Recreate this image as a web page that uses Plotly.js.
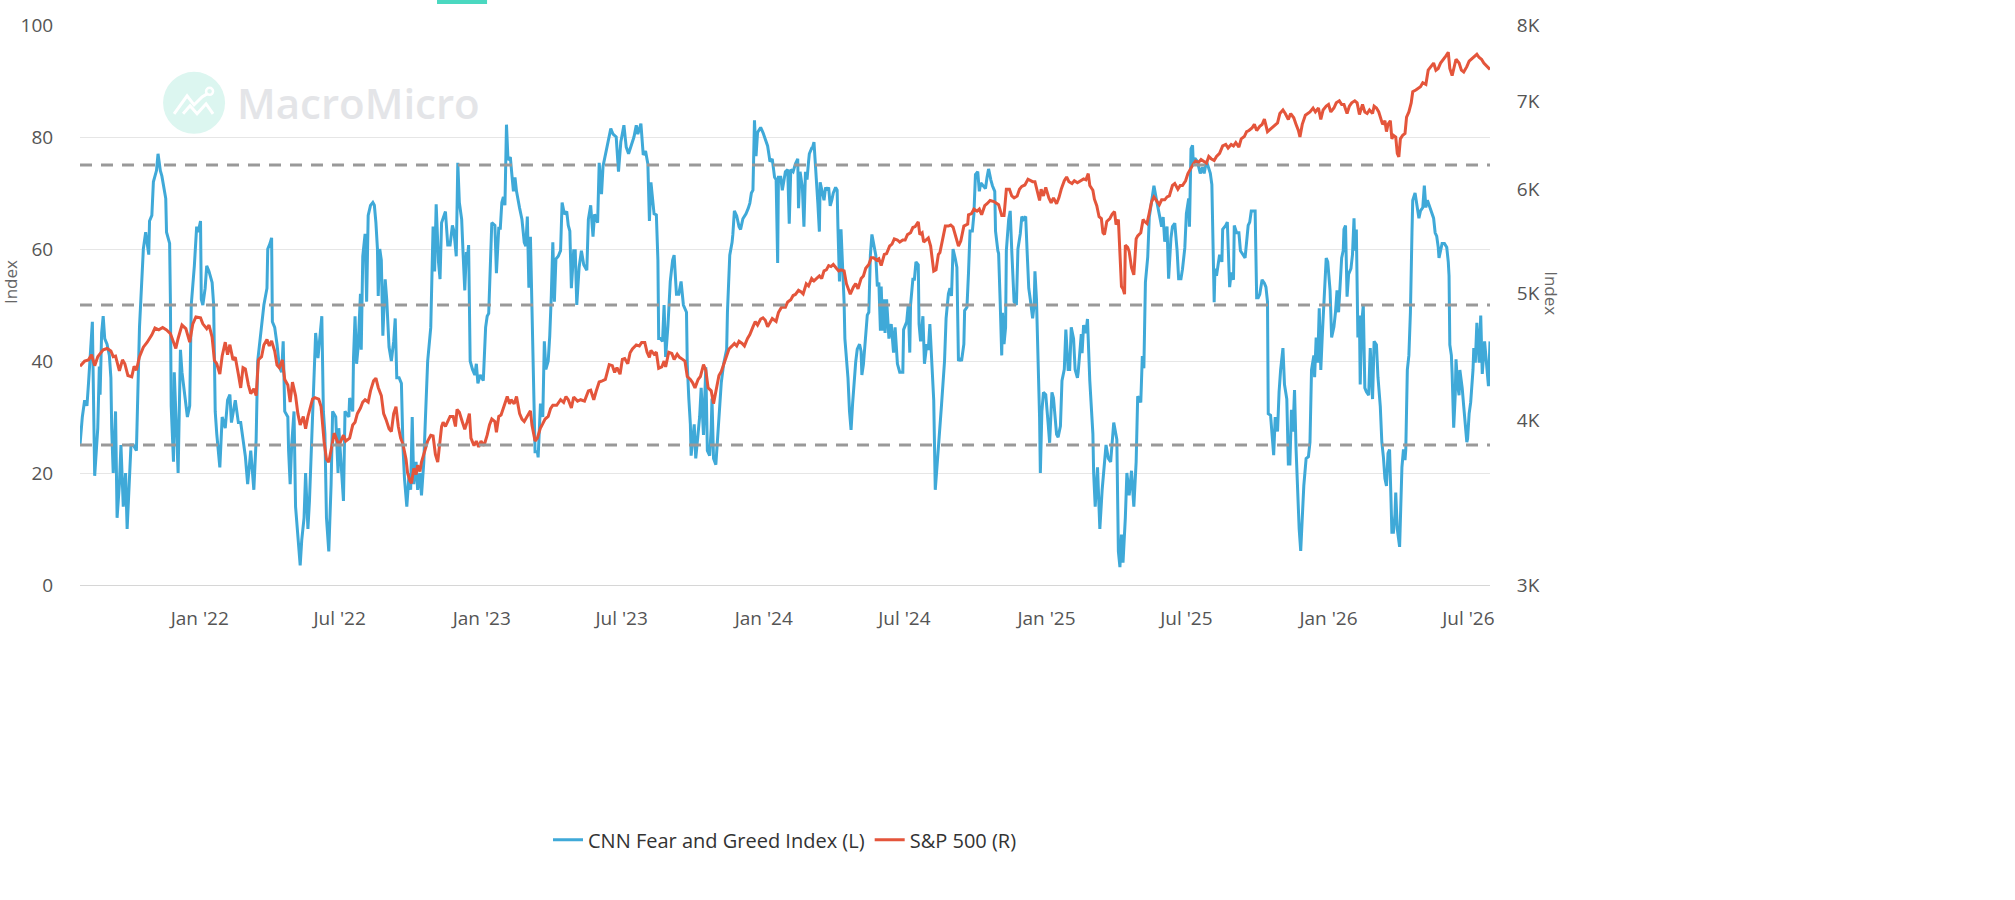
<!DOCTYPE html>
<html>
<head>
<meta charset="utf-8">
<script src="https://cdn.plot.ly/plotly-3.0.1.min.js"></script>
<style>
  html, body { margin: 0; padding: 0; background: #fff; }
  #chart { width: 2015px; height: 900px; }
</style>
</head>
<body>
<div id="chart"></div>
<script>
// CNN Fear and Greed Index, left axis (date, value)
var fearGreed = [
  ['2021-07-30',25],['2021-08-02',30],['2021-08-05',33],['2021-08-08',32],['2021-08-10',36],['2021-08-12',41],
  ['2021-08-15',47],['2021-08-18',19.5],['2021-08-22',28],['2021-08-24',39],['2021-08-25',34],['2021-08-27',45],
  ['2021-08-29',48],['2021-08-31',44],['2021-09-03',43],['2021-09-06',41],['2021-09-08',37],['2021-09-09',28],
  ['2021-09-11',20],['2021-09-14',31],['2021-09-16',12],['2021-09-19',18],['2021-09-21',25],['2021-09-24',14],
  ['2021-09-27',20],['2021-09-29',10],['2021-10-02',18],['2021-10-04',25],['2021-10-07',25],['2021-10-11',24],
  ['2021-10-15',46],['2021-10-17',52],['2021-10-20',60],['2021-10-23',63],['2021-10-27',59],['2021-10-28',65],
  ['2021-10-31',66],['2021-11-02',72],['2021-11-06',74],['2021-11-08',77],['2021-11-11',74],['2021-11-13',73],
  ['2021-11-16',71],['2021-11-18',69],['2021-11-19',63],['2021-11-23',61],['2021-11-24',51],['2021-11-25',32],
  ['2021-11-28',22],['2021-11-29',38],['2021-12-04',20],['2021-12-07',42],['2021-12-09',38],['2021-12-13',33],
  ['2021-12-16',30],['2021-12-19',32],['2021-12-21',50],['2021-12-25',57],['2021-12-28',64],['2021-12-30',63],
  ['2022-01-02',65],['2022-01-03',51],['2022-01-05',50],['2022-01-08',53],['2022-01-10',57],['2022-01-13',56],
  ['2022-01-17',54],['2022-01-19',50],['2022-01-21',31],['2022-01-23',27],['2022-01-27',21],['2022-01-30',30],
  ['2022-02-03',28],['2022-02-06',33],['2022-02-09',34],['2022-02-11',29],['2022-02-16',33],['2022-02-20',29],
  ['2022-02-23',29],['2022-02-26',26],['2022-03-01',23],['2022-03-04',18],['2022-03-08',24],['2022-03-12',17],
  ['2022-03-15',26],['2022-03-17',40],['2022-03-22',46],['2022-03-25',50],['2022-03-29',53],['2022-03-30',60],
  ['2022-04-02',61],['2022-04-04',62],['2022-04-05',47],['2022-04-08',46],['2022-04-11',43],['2022-04-14',39],
  ['2022-04-17',38],['2022-04-19',43.5],['2022-04-21',31],['2022-04-25',30],['2022-04-26',24],['2022-04-28',18],
  ['2022-04-30',25],['2022-05-03',31],['2022-05-05',14],['2022-05-08',8],['2022-05-11',3.5],['2022-05-13',8],
  ['2022-05-16',12],['2022-05-18',20],['2022-05-21',10],['2022-05-23',15],['2022-05-27',32],['2022-05-31',45],
  ['2022-06-03',40.5],['2022-06-06',44.5],['2022-06-08',48],['2022-06-10',31],['2022-06-12',27],['2022-06-14',12],
  ['2022-06-17',6],['2022-06-20',18],['2022-06-22',31],['2022-06-26',30],['2022-06-29',20],['2022-06-30',28],
  ['2022-07-03',22],['2022-07-06',15],['2022-07-08',31],['2022-07-13',30],['2022-07-14',33.4],['2022-07-18',31],
  ['2022-07-19',40.5],['2022-07-21',48],['2022-07-23',39.5],['2022-07-25',42.5],['2022-07-28',52],['2022-07-29',42],
  ['2022-07-31',58.7],['2022-08-03',62.7],['2022-08-05',50.6],['2022-08-07',66],['2022-08-10',67.8],['2022-08-13',68.3],
  ['2022-08-15',67.8],['2022-08-17',64.7],['2022-08-19',60],['2022-08-20',51.6],['2022-08-22',60],['2022-08-24',58],
  ['2022-08-26',44.5],['2022-08-29',54.6],['2022-08-31',51],['2022-09-03',42.5],['2022-09-06',40],['2022-09-09',43.5],
  ['2022-09-11',47.6],['2022-09-13',37],['2022-09-16',37],['2022-09-19',36],['2022-09-21',24.8],['2022-09-23',19],
  ['2022-09-26',14],['2022-09-29',20],['2022-10-01',17],['2022-10-03',30],['2022-10-05',18],['2022-10-08',22],
  ['2022-10-10',17],['2022-10-13',20],['2022-10-15',16],['2022-10-18',22],['2022-10-20',29.4],['2022-10-23',40],
  ['2022-10-27',46],['2022-10-30',64],['2022-11-01',56],['2022-11-03',68],['2022-11-06',57.7],['2022-11-08',54.6],
  ['2022-11-10',64.7],['2022-11-13',65.7],['2022-11-15',66.7],['2022-11-18',60.7],['2022-11-21',60.7],['2022-11-24',64.2],
  ['2022-11-26',63.2],['2022-11-29',58.7],['2022-12-01',75.4],['2022-12-03',68.3],['2022-12-06',65.3],['2022-12-08',58.7],
  ['2022-12-10',52.6],['2022-12-12',59.2],['2022-12-14',59.2],['2022-12-15',60.7],['2022-12-17',40],['2022-12-20',38.5],
  ['2022-12-23',37.5],['2022-12-25',39.5],['2022-12-27',36],['2022-12-30',37.5],['2023-01-03',36.5],['2023-01-06',46],
  ['2023-01-08',48],['2023-01-10',48.5],['2023-01-12',56],['2023-01-14',64.7],['2023-01-18',64.2],['2023-01-20',55.7],
  ['2023-01-23',63.7],['2023-01-25',63.7],['2023-01-27',68.3],['2023-01-29',69.3],['2023-01-31',67.8],['2023-02-02',82.2],
  ['2023-02-04',75.9],['2023-02-07',76.4],['2023-02-09',73.3],['2023-02-11',70.3],['2023-02-13',72.8],['2023-02-15',70.3],
  ['2023-02-19',67.3],['2023-02-22',65.3],['2023-02-25',61.2],['2023-02-27',60.5],['2023-03-01',65.8],['2023-03-03',53.1],
  ['2023-03-05',62.2],['2023-03-07',49],['2023-03-09',31],['2023-03-11',23.8],['2023-03-14',23.8],['2023-03-15',22.8],
  ['2023-03-18',32.4],['2023-03-21',30],['2023-03-23',43.5],['2023-03-25',38.5],['2023-03-28',40],['2023-03-30',44.5],
  ['2023-04-01',51.6],['2023-04-03',61.2],['2023-04-05',50.6],['2023-04-07',58.2],['2023-04-10',58.7],['2023-04-13',59.7],
  ['2023-04-15',68.3],['2023-04-18',66.2],['2023-04-21',66.7],['2023-04-23',64.2],['2023-04-25',63.2],['2023-04-27',53],
  ['2023-04-30',59.7],['2023-05-02',59.7],['2023-05-04',50],['2023-05-07',56.7],['2023-05-10',59.7],['2023-05-13',57.2],
  ['2023-05-17',56.2],['2023-05-19',65.3],['2023-05-22',67.8],['2023-05-25',62.2],['2023-05-27',66.2],['2023-05-31',64.7],
  ['2023-06-02',75.4],['2023-06-05',69.8],['2023-06-07',74.8],['2023-06-10',76.9],['2023-06-12',77.9],['2023-06-14',79.8],
  ['2023-06-17',81.5],['2023-06-20',80.5],['2023-06-24',80],['2023-06-27',73.8],['2023-06-30',79.1],['2023-07-04',82.1],
  ['2023-07-07',78.2],['2023-07-10',77],['2023-07-14',78.9],['2023-07-17',80],['2023-07-20',82.1],['2023-07-22',80.5],
  ['2023-07-26',82.4],['2023-07-29',76.8],['2023-08-01',77.5],['2023-08-04',75.2],['2023-08-06',65],['2023-08-08',71.9],
  ['2023-08-12',66.3],['2023-08-15',66.1],['2023-08-17',58],['2023-08-18',44],['2023-08-20',44],['2023-08-23',43.5],
  ['2023-08-25',50],['2023-08-27',40.7],['2023-08-30',46.3],['2023-09-02',54.2],['2023-09-05',58],['2023-09-07',58.9],
  ['2023-09-10',51.9],['2023-09-13',51.9],['2023-09-16',54.2],['2023-09-19',50],['2023-09-23',48.7],['2023-09-24',39.4],
  ['2023-09-26',33.3],['2023-09-28',28.7],['2023-09-29',23.1],['2023-10-03',28.7],['2023-10-05',22.6],['2023-10-08',27.7],
  ['2023-10-10',30],['2023-10-12',35.2],['2023-10-15',26.8],['2023-10-18',38.9],['2023-10-20',24],['2023-10-23',23.1],
  ['2023-10-25',28],['2023-10-26',33.3],['2023-10-28',22.6],['2023-10-31',21.5],['2023-11-04',31],['2023-11-07',36.1],
  ['2023-11-10',39.4],['2023-11-14',42.1],['2023-11-15',48.7],['2023-11-18',58.9],['2023-11-21',61.2],['2023-11-22',62.6],
  ['2023-11-24',66.8],['2023-11-27',65.9],['2023-11-30',64],['2023-12-02',63.5],['2023-12-05',65.4],['2023-12-09',66.3],
  ['2023-12-12',67.3],['2023-12-14',68.2],['2023-12-16',70],['2023-12-18',70.5],['2023-12-20',83],['2023-12-22',76.6],
  ['2023-12-24',80.8],['2023-12-28',81.7],['2023-12-31',80.8],['2024-01-04',79.4],['2024-01-06',78.4],['2024-01-08',76.6],
  ['2024-01-09',75.6],['2024-01-12',76.1],['2024-01-15',72.8],['2024-01-17',72.4],['2024-01-19',57.5],['2024-01-20',72.8],
  ['2024-01-23',72.8],['2024-01-25',70.5],['2024-01-29',73.8],['2024-02-01',74.2],['2024-02-03',64.5],['2024-02-05',74.2],
  ['2024-02-08',73.8],['2024-02-11',75.2],['2024-02-14',76.1],['2024-02-15',67.3],['2024-02-17',73.8],['2024-02-20',71],
  ['2024-02-22',64],['2024-02-24',73.8],['2024-02-26',72.4],['2024-02-28',75.6],['2024-02-29',77],['2024-03-03',78],
  ['2024-03-04',78],['2024-03-06',79.1],['2024-03-08',75.2],['2024-03-09',72.8],['2024-03-11',68.2],['2024-03-13',63.1],
  ['2024-03-14',71.9],['2024-03-17',70],['2024-03-19',68.7],['2024-03-21',71],['2024-03-23',70.5],['2024-03-25',71],
  ['2024-03-27',67.7],['2024-03-29',68.7],['2024-03-31',70],['2024-04-03',71],['2024-04-05',70.5],['2024-04-06',64],
  ['2024-04-08',54.2],['2024-04-10',63.5],['2024-04-12',58],['2024-04-14',50.5],['2024-04-15',44],['2024-04-19',37],
  ['2024-04-21',31],['2024-04-23',27.7],['2024-04-25',32.4],['2024-04-27',37],['2024-04-29',39.8],['2024-05-01',42.1],
  ['2024-05-04',43],['2024-05-06',41.7],['2024-05-07',37.5],['2024-05-09',39.4],['2024-05-12',45.9],['2024-05-14',48.2],
  ['2024-05-16',48.7],['2024-05-18',58.9],['2024-05-20',62.6],['2024-05-22',61.2],['2024-05-25',58.9],['2024-05-27',53.3],
  ['2024-05-29',54],['2024-05-31',45.4],['2024-06-01',53.3],['2024-06-03',45.4],['2024-06-05',51],['2024-06-06',45],
  ['2024-06-08',51],['2024-06-11',44],['2024-06-14',46.6],['2024-06-17',41.5],['2024-06-19',46],['2024-06-22',39.5],
  ['2024-06-25',38],['2024-06-29',38],['2024-06-30',45.6],['2024-07-04',47],['2024-07-06',50],['2024-07-08',41.5],
  ['2024-07-09',50],['2024-07-12',54.6],['2024-07-14',54.6],['2024-07-16',57.7],['2024-07-19',57.2],['2024-07-20',46.6],
  ['2024-07-22',43.5],['2024-07-25',48],['2024-07-27',39.5],['2024-07-30',43],['2024-08-01',42],['2024-08-03',46.6],
  ['2024-08-06',37.5],['2024-08-08',33],['2024-08-10',17],['2024-08-15',25.4],['2024-08-18',32],['2024-08-22',40],
  ['2024-08-24',47.6],['2024-08-27',52],['2024-08-29',53],['2024-08-31',51.6],['2024-09-02',60],['2024-09-05',58.2],
  ['2024-09-07',56.7],['2024-09-09',40],['2024-09-11',40.5],['2024-09-13',40],['2024-09-16',43],['2024-09-17',49],
  ['2024-09-20',49.6],['2024-09-22',55.7],['2024-09-24',63.2],['2024-09-27',63.2],['2024-09-29',66.2],['2024-10-01',73.3],
  ['2024-10-04',73.8],['2024-10-06',70.3],['2024-10-08',71.8],['2024-10-11',71.3],['2024-10-14',70.8],['2024-10-16',72.8],
  ['2024-10-18',74.3],['2024-10-21',72.3],['2024-10-23',71.3],['2024-10-26',70.3],['2024-10-27',63.2],['2024-10-30',59.7],
  ['2024-10-31',59.2],['2024-11-02',50.6],['2024-11-04',41],['2024-11-05',48.6],['2024-11-07',43],['2024-11-09',46],
  ['2024-11-10',59.7],['2024-11-13',65.3],['2024-11-15',66.8],['2024-11-17',59.7],['2024-11-19',52],['2024-11-20',50.6],
  ['2024-11-23',50],['2024-11-25',60],['2024-11-28',62.7],['2024-11-30',65.8],['2024-12-02',65.3],['2024-12-05',65.8],
  ['2024-12-07',59.2],['2024-12-09',53],['2024-12-11',51],['2024-12-14',47.6],['2024-12-16',50],['2024-12-17',56],
  ['2024-12-19',51],['2024-12-21',42],['2024-12-23',30],['2024-12-24',20],['2024-12-26',31],['2024-12-28',34.4],
  ['2024-12-31',34],['2025-01-03',29],['2025-01-05',25.4],['2025-01-08',34.4],['2025-01-10',33.4],['2025-01-14',26.9],
  ['2025-01-16',26.4],['2025-01-19',28.4],['2025-01-21',36.5],['2025-01-24',38.5],['2025-01-26',45.6],['2025-01-29',38.5],
  ['2025-01-31',38.5],['2025-02-02',46],['2025-02-05',44],['2025-02-07',38.5],['2025-02-10',37],['2025-02-11',38],
  ['2025-02-15',44.8],['2025-02-16',41.4],['2025-02-18',46.4],['2025-02-21',45],['2025-02-23',47.5],['2025-02-26',36.5],
  ['2025-02-28',32],['2025-03-02',27],['2025-03-03',20],['2025-03-05',14],['2025-03-08',21],['2025-03-11',10],
  ['2025-03-14',17],['2025-03-17',21.5],['2025-03-19',25],['2025-03-22',22.6],['2025-03-25',22],['2025-03-29',29],
  ['2025-04-02',26],['2025-04-04',6],['2025-04-06',3.2],['2025-04-08',9],['2025-04-10',4],['2025-04-13',12],
  ['2025-04-15',20],['2025-04-18',16],['2025-04-21',20.4],['2025-04-24',14],['2025-04-27',22],['2025-04-29',33.7],
  ['2025-05-03',32.6],['2025-05-05',40.9],['2025-05-07',38.7],['2025-05-09',54.1],['2025-05-12',58.6],['2025-05-14',65.7],
  ['2025-05-17',69],['2025-05-20',71.3],['2025-05-23',69],['2025-05-27',65.7],['2025-05-30',64],['2025-06-01',65.7],
  ['2025-06-03',61.3],['2025-06-06',64],['2025-06-08',54.7],['2025-06-11',61.9],['2025-06-13',64],['2025-06-16',64.6],
  ['2025-06-19',59.7],['2025-06-21',54.7],['2025-06-24',54.7],['2025-06-26',56.4],['2025-06-29',60.2],['2025-07-01',66.3],
  ['2025-07-04',69],['2025-07-05',64],['2025-07-07',77.9],['2025-07-09',78.5],['2025-07-10',75.1],['2025-07-12',76.2],
  ['2025-07-15',75.7],['2025-07-17',74.6],['2025-07-19',73.5],['2025-07-22',74.6],['2025-07-24',73.5],['2025-07-27',75.7],
  ['2025-07-29',74.6],['2025-08-01',73.5],['2025-08-03',71.5],['2025-08-04',65.7],['2025-08-06',50.5],['2025-08-07',56.5],
  ['2025-08-09',55.2],['2025-08-11',57.1],['2025-08-13',59],['2025-08-16',57.7],['2025-08-17',63.5],['2025-08-21',64.2],
  ['2025-08-23',64.8],['2025-08-26',53.2],['2025-08-28',55.8],['2025-08-31',54.5],['2025-09-01',64.2],['2025-09-04',62.9],
  ['2025-09-07',62.9],['2025-09-09',59.7],['2025-09-12',59],['2025-09-15',58.4],['2025-09-19',64.2],['2025-09-21',64.8],
  ['2025-09-23',66.8],['2025-09-25',66.8],['2025-09-28',66.8],['2025-09-30',51.3],['2025-10-02',51.3],['2025-10-04',51.9],
  ['2025-10-07',54.5],['2025-10-10',53.9],['2025-10-12',53.2],['2025-10-14',50.6],['2025-10-15',30.6],['2025-10-18',30.3],
  ['2025-10-20',26.1],['2025-10-22',23.2],['2025-10-24',30],['2025-10-27',27.4],['2025-10-29',34.5],['2025-10-31',38.4],
  ['2025-11-03',42.3],['2025-11-05',35.8],['2025-11-08',33.2],['2025-11-10',21.6],['2025-11-12',21.6],['2025-11-14',31.3],
  ['2025-11-16',27.4],['2025-11-18',34.8],['2025-11-20',24.2],['2025-11-22',15.8],['2025-11-24',10],['2025-11-26',6.1],
  ['2025-11-28',13.2],['2025-11-30',17.7],['2025-12-03',22.6],['2025-12-06',22.9],['2025-12-08',25.5],['2025-12-10',38.4],
  ['2025-12-13',41],['2025-12-14',37.1],['2025-12-16',44.2],['2025-12-18',39.7],['2025-12-20',49.4],['2025-12-22',38.4],
  ['2025-12-24',44.8],['2025-12-27',53.9],['2025-12-29',58.4],['2025-12-31',57.7],['2026-01-03',52.6],['2026-01-05',44.2],
  ['2026-01-08',46.1],['2026-01-10',48.7],['2026-01-12',52.6],['2026-01-14',48.7],['2026-01-16',54.5],['2026-01-18',58.4],
  ['2026-01-20',59.7],['2026-01-21',63.5],['2026-01-23',64.2],['2026-01-25',51.5],['2026-01-27',55.5],['2026-01-30',56.5],
  ['2026-02-01',59],['2026-02-03',65.5],['2026-02-04',59.7],['2026-02-06',63.5],['2026-02-08',44.2],['2026-02-10',48.1],
  ['2026-02-11',35.8],['2026-02-13',46.8],['2026-02-15',50],['2026-02-17',35.2],['2026-02-19',34.5],['2026-02-22',33.9],
  ['2026-02-24',42.3],['2026-02-26',33.9],['2026-02-27',33.2],['2026-03-01',43.5],['2026-03-04',42.9],['2026-03-06',37.1],
  ['2026-03-08',33.2],['2026-03-09',31.9],['2026-03-11',25.5],['2026-03-13',22.9],['2026-03-15',19],['2026-03-17',17.7],
  ['2026-03-19',23.5],['2026-03-21',24.2],['2026-03-23',14.5],['2026-03-24',9.4],['2026-03-26',9.4],['2026-03-28',12.6],
  ['2026-03-29',16.5],['2026-03-31',10],['2026-04-03',6.8],['2026-04-05',16.5],['2026-04-06',21],['2026-04-08',24.2],
  ['2026-04-10',22.3],['2026-04-11',24.2],['2026-04-13',38.4],['2026-04-15',41],['2026-04-17',48.7],['2026-04-19',62.9],
  ['2026-04-20',68.7],['2026-04-23',70],['2026-04-25',68.1],['2026-04-28',65.5],['2026-04-30',66.8],['2026-05-03',67.4],
  ['2026-05-05',71.3],['2026-05-07',67.4],['2026-05-09',68.7],['2026-05-12',67.4],['2026-05-14',66.8],['2026-05-17',65.5],
  ['2026-05-19',62.9],['2026-05-21',62.3],['2026-05-23',60.3],['2026-05-24',58.4],['2026-05-26',59.7],['2026-05-28',61],
  ['2026-05-31',61],['2026-06-03',60.3],['2026-06-05',57.7],['2026-06-06',55.2],['2026-06-07',42.9],['2026-06-09',41],
  ['2026-06-10',37.7],['2026-06-12',28.1],['2026-06-14',33.9],['2026-06-15',40.3],['2026-06-17',35.8],['2026-06-19',33.9],
  ['2026-06-20',38.4],['2026-06-23',35.2],['2026-06-25',31.9],['2026-06-27',28.1],['2026-06-29',25.5],['2026-06-30',26.1],
  ['2026-07-02',30.6],['2026-07-04',32.6],['2026-07-07',38.4],['2026-07-08',42.3],['2026-07-10',39.7],['2026-07-12',46.8],
  ['2026-07-13',43.5],['2026-07-15',39.7],['2026-07-17',48.1],['2026-07-19',37.7],['2026-07-22',43.5],['2026-07-23',41.6],
  ['2026-07-25',39],['2026-07-27',35.5],['2026-07-29',43.5]
];

// S&P 500, right axis (date, close)
var sp500 = [
  ['2021-07-30',4400],['2021-08-05',4440],['2021-08-10',4450],['2021-08-14',4490],['2021-08-18',4405],['2021-08-22',4475],
  ['2021-08-29',4530],['2021-09-03',4540],['2021-09-08',4520],['2021-09-11',4475],['2021-09-14',4480],['2021-09-19',4365],
  ['2021-09-23',4450],['2021-09-26',4420],['2021-09-30',4330],['2021-10-05',4320],['2021-10-08',4400],['2021-10-11',4370],
  ['2021-10-15',4475],['2021-10-20',4550],['2021-10-25',4590],['2021-10-31',4650],['2021-11-04',4705],['2021-11-09',4690],
  ['2021-11-14',4710],['2021-11-19',4690],['2021-11-24',4660],['2021-11-28',4590],['2021-12-01',4540],['2021-12-04',4620],
  ['2021-12-09',4730],['2021-12-14',4700],['2021-12-19',4590],['2021-12-23',4740],['2021-12-27',4798],['2022-01-02',4790],
  ['2022-01-05',4740],['2022-01-10',4700],['2022-01-13',4730],['2022-01-17',4630],['2022-01-20',4445],['2022-01-23',4420],
  ['2022-01-27',4340],['2022-01-30',4480],['2022-02-03',4590],['2022-02-06',4490],['2022-02-09',4570],['2022-02-13',4450],
  ['2022-02-16',4470],['2022-02-20',4340],['2022-02-23',4237],['2022-02-26',4390],['2022-03-01',4380],['2022-03-05',4258],
  ['2022-03-08',4195],['2022-03-12',4230],['2022-03-15',4180],['2022-03-18',4452],['2022-03-22',4475],['2022-03-25',4568],
  ['2022-03-29',4612],['2022-04-01',4560],['2022-04-04',4600],['2022-04-08',4520],['2022-04-11',4410],['2022-04-14',4390],
  ['2022-04-18',4450],['2022-04-21',4300],['2022-04-25',4258],['2022-04-28',4133],['2022-05-01',4280],['2022-05-05',4180],
  ['2022-05-08',4050],['2022-05-11',3970],['2022-05-15',4030],['2022-05-18',3945],['2022-05-21',4030],['2022-05-27',4155],
  ['2022-05-30',4165],['2022-06-04',4155],['2022-06-07',4100],['2022-06-11',3854],['2022-06-14',3740],['2022-06-17',3720],
  ['2022-06-21',3830],['2022-06-24',3914],['2022-06-28',3860],['2022-06-30',3830],['2022-07-06',3900],['2022-07-09',3860],
  ['2022-07-14',3880],['2022-07-18',3970],['2022-07-21',3990],['2022-07-24',4050],['2022-07-28',4090],['2022-07-31',4133],
  ['2022-08-03',4150],['2022-08-07',4133],['2022-08-10',4215],['2022-08-14',4290],['2022-08-17',4310],['2022-08-20',4240],
  ['2022-08-24',4180],['2022-08-27',4050],['2022-08-30',4010],['2022-09-03',3945],['2022-09-06',3925],['2022-09-09',4050],
  ['2022-09-12',4100],['2022-09-15',3960],['2022-09-18',3880],['2022-09-21',3840],['2022-09-25',3740],['2022-09-27',3650],
  ['2022-09-30',3600],['2022-10-02',3585],['2022-10-05',3680],['2022-10-08',3640],['2022-10-10',3700],['2022-10-13',3660],
  ['2022-10-15',3720],['2022-10-19',3790],['2022-10-23',3860],['2022-10-27',3900],['2022-10-30',3895],['2022-11-02',3770],
  ['2022-11-05',3720],['2022-11-10',3960],['2022-11-12',3990],['2022-11-15',3960],['2022-11-18',4000],['2022-11-21',4030],
  ['2022-11-25',4030],['2022-11-28',3960],['2022-11-30',4080],['2022-12-03',4060],['2022-12-07',3990],['2022-12-10',3940],
  ['2022-12-13',3990],['2022-12-16',4050],['2022-12-18',3880],['2022-12-22',3830],['2022-12-25',3860],['2022-12-28',3820],
  ['2022-12-31',3860],['2023-01-04',3830],['2023-01-08',3900],['2023-01-11',3970],['2023-01-14',4012],['2023-01-18',3995],
  ['2023-01-20',3920],['2023-01-23',4030],['2023-01-26',4040],['2023-01-29',4085],['2023-02-03',4173],['2023-02-06',4120],
  ['2023-02-08',4150],['2023-02-12',4120],['2023-02-15',4173],['2023-02-19',4050],['2023-02-22',4012],['2023-02-25',3995],
  ['2023-02-28',4020],['2023-03-05',4070],['2023-03-07',3970],['2023-03-11',3860],['2023-03-14',3880],['2023-03-18',3950],
  ['2023-03-21',3980],['2023-03-24',4012],['2023-03-28',4030],['2023-03-31',4085],['2023-04-03',4110],['2023-04-08',4110],
  ['2023-04-13',4150],['2023-04-17',4130],['2023-04-20',4173],['2023-04-23',4150],['2023-04-27',4090],['2023-04-30',4170],
  ['2023-05-05',4140],['2023-05-09',4150],['2023-05-14',4140],['2023-05-19',4215],['2023-05-22',4220],['2023-05-26',4150],
  ['2023-05-29',4210],['2023-06-02',4281],['2023-06-06',4290],['2023-06-10',4300],['2023-06-15',4413],['2023-06-19',4405],
  ['2023-06-22',4353],['2023-06-25',4390],['2023-06-29',4340],['2023-07-02',4454],['2023-07-05',4460],['2023-07-09',4420],
  ['2023-07-12',4506],['2023-07-15',4536],['2023-07-20',4568],['2023-07-24',4560],['2023-07-27',4588],['2023-07-31',4588],
  ['2023-08-03',4510],['2023-08-06',4470],['2023-08-08',4525],['2023-08-12',4495],['2023-08-15',4510],['2023-08-18',4384],
  ['2023-08-22',4395],['2023-08-25',4440],['2023-08-27',4395],['2023-08-31',4510],['2023-09-04',4500],['2023-09-07',4454],
  ['2023-09-11',4495],['2023-09-14',4470],['2023-09-18',4454],['2023-09-21',4440],['2023-09-24',4322],['2023-09-28',4300],
  ['2023-10-01',4275],['2023-10-04',4237],['2023-10-08',4300],['2023-10-11',4322],['2023-10-15',4413],['2023-10-18',4370],
  ['2023-10-21',4237],['2023-10-25',4215],['2023-10-28',4122],['2023-10-31',4215],['2023-11-04',4330],['2023-11-07',4360],
  ['2023-11-10',4413],['2023-11-14',4470],['2023-11-17',4536],['2023-11-21',4560],['2023-11-24',4580],['2023-11-27',4560],
  ['2023-11-30',4598],['2023-12-04',4580],['2023-12-07',4560],['2023-12-11',4620],['2023-12-14',4652],['2023-12-18',4715],
  ['2023-12-21',4758],['2023-12-24',4730],['2023-12-28',4780],['2023-12-31',4790],['2024-01-03',4770],['2024-01-06',4715],
  ['2024-01-09',4745],['2024-01-12',4785],['2024-01-17',4760],['2024-01-20',4835],['2024-01-24',4880],['2024-01-29',4880],
  ['2024-02-01',4925],['2024-02-05',4945],['2024-02-08',4981],['2024-02-11',4990],['2024-02-15',5027],['2024-02-18',5015],
  ['2024-02-21',4995],['2024-02-25',5085],['2024-02-28',5065],['2024-03-03',5132],['2024-03-06',5110],['2024-03-09',5132],
  ['2024-03-13',5155],['2024-03-16',5132],['2024-03-19',5201],['2024-03-22',5210],['2024-03-25',5249],['2024-03-28',5240],
  ['2024-03-31',5260],['2024-04-04',5225],['2024-04-07',5201],['2024-04-10',5210],['2024-04-14',5200],['2024-04-17',5085],
  ['2024-04-22',4993],['2024-04-26',5055],['2024-04-29',5085],['2024-05-02',5040],['2024-05-06',5132],['2024-05-09',5155],
  ['2024-05-12',5225],['2024-05-16',5260],['2024-05-19',5321],['2024-05-22',5321],['2024-05-26',5300],['2024-05-29',5313],
  ['2024-06-01',5250],['2024-06-05',5352],['2024-06-08',5360],['2024-06-12',5432],['2024-06-15',5450],['2024-06-18',5500],
  ['2024-06-22',5490],['2024-06-25',5470],['2024-06-29',5490],['2024-07-02',5490],['2024-07-05',5542],['2024-07-09',5560],
  ['2024-07-12',5611],['2024-07-15',5620],['2024-07-19',5667],['2024-07-21',5542],['2024-07-24',5560],['2024-07-26',5470],
  ['2024-07-29',5490],['2024-08-01',5510],['2024-08-04',5432],['2024-08-06',5301],['2024-08-08',5198],['2024-08-11',5210],
  ['2024-08-14',5352],['2024-08-16',5370],['2024-08-20',5530],['2024-08-23',5625],['2024-08-27',5625],['2024-08-30',5635],
  ['2024-09-02',5615],['2024-09-06',5500],['2024-09-09',5432],['2024-09-12',5480],['2024-09-16',5625],['2024-09-21',5645],
  ['2024-09-22',5738],['2024-09-26',5750],['2024-09-29',5795],['2024-10-03',5775],['2024-10-06',5795],['2024-10-09',5738],
  ['2024-10-13',5830],['2024-10-16',5850],['2024-10-20',5883],['2024-10-25',5872],['2024-10-28',5860],['2024-10-31',5840],
  ['2024-11-04',5730],['2024-11-07',5730],['2024-11-10',6000],['2024-11-14',6000],['2024-11-17',5930],['2024-11-20',5910],
  ['2024-11-24',5930],['2024-11-27',6000],['2024-11-30',6030],['2024-12-04',6045],['2024-12-08',6106],['2024-12-11',6090],
  ['2024-12-14',6080],['2024-12-17',6080],['2024-12-20',5970],['2024-12-23',5883],['2024-12-25',6000],['2024-12-28',5930],
  ['2024-12-31',6020],['2025-01-04',5910],['2025-01-07',5860],['2025-01-10',5910],['2025-01-14',5850],['2025-01-17',5910],
  ['2025-01-20',6000],['2025-01-24',6090],['2025-01-27',6130],['2025-01-30',6080],['2025-02-03',6060],['2025-02-06',6090],
  ['2025-02-10',6068],['2025-02-15',6090],['2025-02-18',6110],['2025-02-21',6100],['2025-02-24',6167],['2025-02-26',6040],
  ['2025-03-02',5990],['2025-03-04',5897],['2025-03-07',5830],['2025-03-10',5718],['2025-03-13',5700],['2025-03-15',5560],
  ['2025-03-17',5542],['2025-03-20',5670],['2025-03-24',5700],['2025-03-27',5745],['2025-03-30',5770],['2025-04-01',5640],
  ['2025-04-04',5690],['2025-04-08',5060],['2025-04-10',5040],['2025-04-12',4993],['2025-04-13',5440],['2025-04-16',5420],
  ['2025-04-18',5380],['2025-04-21',5230],['2025-04-24',5165],['2025-04-27',5500],['2025-04-29',5530],['2025-05-03',5560],
  ['2025-05-06',5690],['2025-05-08',5670],['2025-05-11',5650],['2025-05-13',5720],['2025-05-17',5870],['2025-05-20',5920],
  ['2025-05-23',5880],['2025-05-27',5840],['2025-05-30',5890],['2025-06-03',5890],['2025-06-06',5920],['2025-06-09',5930],
  ['2025-06-13',6040],['2025-06-16',6060],['2025-06-20',6000],['2025-06-23',6040],['2025-06-26',6040],['2025-06-30',6090],
  ['2025-07-03',6167],['2025-07-07',6230],['2025-07-10',6270],['2025-07-13',6303],['2025-07-17',6290],['2025-07-20',6320],
  ['2025-07-23',6303],['2025-07-27',6280],['2025-07-30',6355],['2025-08-02',6330],['2025-08-06',6310],['2025-08-09',6355],
  ['2025-08-13',6390],['2025-08-17',6473],['2025-08-21',6490],['2025-08-24',6450],['2025-08-28',6490],['2025-08-31',6473],
  ['2025-09-03',6510],['2025-09-07',6460],['2025-09-10',6554],['2025-09-14',6580],['2025-09-17',6637],['2025-09-20',6650],
  ['2025-09-24',6680],['2025-09-27',6722],['2025-09-30',6650],['2025-10-04',6700],['2025-10-07',6720],['2025-10-10',6785],
  ['2025-10-14',6637],['2025-10-17',6660],['2025-10-20',6680],['2025-10-24',6722],['2025-10-27',6740],['2025-10-30',6851],
  ['2025-11-03',6894],['2025-11-06',6851],['2025-11-10',6780],['2025-11-13',6851],['2025-11-17',6800],['2025-11-20',6722],
  ['2025-11-23',6650],['2025-11-25',6575],['2025-11-28',6722],['2025-12-02',6830],['2025-12-05',6851],['2025-12-08',6870],
  ['2025-12-12',6917],['2025-12-15',6870],['2025-12-19',6917],['2025-12-22',6780],['2025-12-25',6894],['2025-12-29',6940],
  ['2026-01-01',6960],['2026-01-04',6870],['2026-01-08',6917],['2026-01-11',6980],['2026-01-15',7005],['2026-01-18',6960],
  ['2026-01-21',6960],['2026-01-25',6851],['2026-01-28',6940],['2026-01-31',6980],['2026-02-04',7005],['2026-02-07',6980],
  ['2026-02-10',6840],['2026-02-14',6960],['2026-02-17',6870],['2026-02-20',6851],['2026-02-23',6894],['2026-02-27',6851],
  ['2026-03-01',6940],['2026-03-04',6917],['2026-03-07',6870],['2026-03-10',6785],['2026-03-12',6722],['2026-03-15',6765],
  ['2026-03-17',6637],['2026-03-19',6722],['2026-03-22',6765],['2026-03-24',6554],['2026-03-26',6595],['2026-03-29',6575],
  ['2026-03-31',6390],['2026-04-02',6350],['2026-04-04',6554],['2026-04-07',6595],['2026-04-10',6616],['2026-04-12',6808],
  ['2026-04-15',6870],['2026-04-18',6980],['2026-04-20',7117],['2026-04-24',7140],['2026-04-27',7160],['2026-04-30',7180],
  ['2026-05-03',7230],['2026-05-07',7210],['2026-05-10',7391],['2026-05-13',7437],['2026-05-17',7484],['2026-05-20',7391],
  ['2026-05-23',7414],['2026-05-26',7484],['2026-05-30',7534],['2026-06-02',7580],['2026-06-05',7627],['2026-06-07',7414],
  ['2026-06-10',7321],['2026-06-13',7437],['2026-06-15',7534],['2026-06-19',7484],['2026-06-22',7391],['2026-06-25',7368],
  ['2026-06-29',7437],['2026-07-02',7510],['2026-07-05',7534],['2026-07-08',7557],['2026-07-12',7600],['2026-07-15',7557],
  ['2026-07-18',7534],['2026-07-21',7484],['2026-07-25',7437],['2026-07-29',7400]
];

var fgLevels = [25, 50, 75];
var spTickVals = [3000, 4000, 5000, 6000, 7000, 8000];
var spTickText = ['3K', '4K', '5K', '6K', '7K', '8K'];

var textGray = '#555555';
var tickFont = {family: 'Open Sans, sans-serif', size: 19, color: textGray};

var trace1 = {
  x: fearGreed.map(function (d) { return d[0]; }),
  y: fearGreed.map(function (d) { return d[1]; }),
  name: 'CNN Fear and Greed Index (L)',
  type: 'scatter',
  mode: 'lines',
  line: {color: '#3fa9d8', width: 3}
};

var trace2 = {
  x: sp500.map(function (d) { return d[0]; }),
  y: sp500.map(function (d) { return d[1]; }),
  name: 'S&P 500 (R)',
  type: 'scatter',
  mode: 'lines',
  yaxis: 'y2',
  line: {color: '#e4553b', width: 3}
};

var shapes = fgLevels.map(function (v) {
  return {
    type: 'line', xref: 'paper', x0: 0, x1: 1, yref: 'y', y0: v, y1: v,
    line: {color: '#999999', width: 3.2, dash: '12px,9px'},
    layer: 'above'
  };
});

// watermark logo
shapes.push({
  type: 'circle', xref: 'paper', yref: 'paper',
  xsizemode: 'pixel', ysizemode: 'pixel',
  xanchor: 0.0809, yanchor: 0.861,
  x0: -31, x1: 31, y0: -31, y1: 31,
  fillcolor: '#dcf6f0', line: {width: 0}, layer: 'below'
});
shapes.push({
  type: 'path', xref: 'paper', yref: 'paper',
  xsizemode: 'pixel', ysizemode: 'pixel',
  xanchor: 0.0809, yanchor: 0.861,
  path: 'M -20 -11 L -7 7 L 0 -2 L 8 6 L 13 9 M -11 -11 L -4 -3 L 3 -11 L 12 -1 L 19 -11',
  fillcolor: 'rgba(0,0,0,0)', line: {color: '#ffffff', width: 3}, layer: 'below'
});
shapes.push({
  type: 'circle', xref: 'paper', yref: 'paper',
  xsizemode: 'pixel', ysizemode: 'pixel',
  xanchor: 0.0809, yanchor: 0.861,
  x0: 12, x1: 19, y0: 8, y1: 15,
  fillcolor: '#dcf6f0', line: {color: '#ffffff', width: 2.5}, layer: 'below'
});
// small tab at the top edge
shapes.push({
  type: 'rect', xref: 'paper', yref: 'paper',
  x0: 0.2532, x1: 0.2887, y0: 1.0375, y1: 1.06,
  fillcolor: '#4ad8c0', line: {width: 0}
});

var layout = {
  width: 2015,
  height: 900,
  margin: {l: 80, r: 525, t: 25, b: 315},
  paper_bgcolor: '#ffffff',
  plot_bgcolor: '#ffffff',
  font: {family: 'Open Sans, sans-serif', color: textGray},
  showlegend: true,
  legend: {
    orientation: 'h', x: 0.5, xanchor: 'center', y: -0.455, yanchor: 'middle',
    font: {family: 'Open Sans, sans-serif', size: 20, color: '#333333'}
  },
  xaxis: {
    type: 'date',
    range: ['2021-07-30', '2026-07-29'],
    tick0: '2022-01-01',
    dtick: 'M6',
    tickformat: "%b '%y",
    showgrid: false,
    zeroline: false,
    showline: true,
    linecolor: '#d6d6d6',
    linewidth: 1,
    ticks: 'outside',
    ticklen: 16,
    tickcolor: 'rgba(0,0,0,0)',
    tickfont: tickFont
  },
  yaxis: {
    range: [0, 100],
    dtick: 20,
    gridcolor: '#e6e6e6',
    gridwidth: 1,
    zeroline: false,
    showline: false,
    ticks: 'outside',
    ticklen: 22,
    tickcolor: 'rgba(0,0,0,0)',
    tickfont: tickFont
  },
  yaxis2: {
    overlaying: 'y',
    side: 'right',
    type: 'log',
    range: [Math.log10(3000), Math.log10(8000)],
    tickvals: spTickVals,
    ticktext: spTickText,
    showgrid: false,
    zeroline: false,
    showline: false,
    ticks: 'outside',
    ticklen: 22,
    tickcolor: 'rgba(0,0,0,0)',
    tickfont: tickFont
  },
  shapes: shapes,
  annotations: [
    {
      text: 'Index', xref: 'paper', yref: 'paper', x: -0.0496, y: 0.541,
      textangle: -90, showarrow: false, xanchor: 'center', yanchor: 'middle',
      font: {size: 17, color: '#666666'}
    },
    {
      text: 'Index', xref: 'paper', yref: 'paper', x: 1.044, y: 0.521,
      textangle: 90, showarrow: false, xanchor: 'center', yanchor: 'middle',
      font: {size: 17, color: '#666666'}
    },
    {
      text: 'MacroMicro', xref: 'paper', yref: 'paper', x: 0.1099, y: 0.861,
      xanchor: 'left', yanchor: 'middle', showarrow: false,
      font: {family: 'Open Sans, sans-serif', size: 42, weight: 600, color: '#e4e5e8'}
    }
  ]
};

Plotly.newPlot('chart', [trace1, trace2], layout, {displayModeBar: false, staticPlot: true});
</script>
</body>
</html>
